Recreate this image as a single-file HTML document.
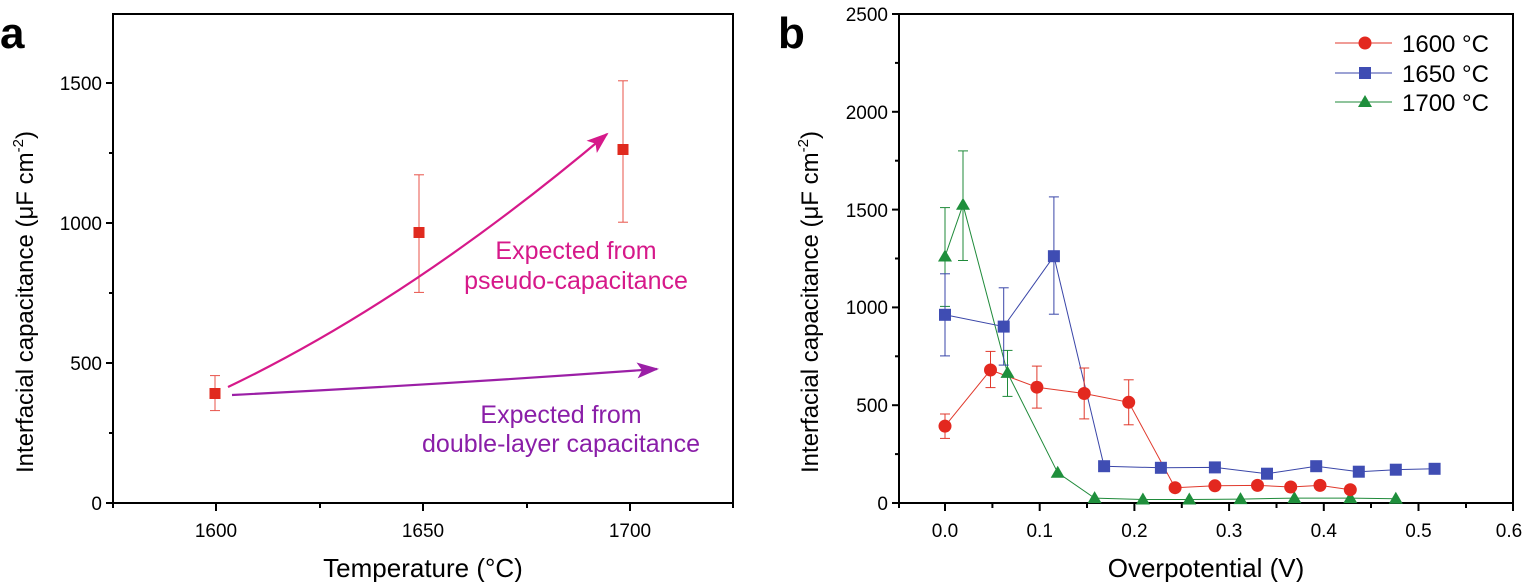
<!DOCTYPE html>
<html><head><meta charset="utf-8"><style>
html,body{margin:0;padding:0;background:#fff}
svg{display:block;font-family:"Liberation Sans",Arial,sans-serif}
</style></head><body>
<svg width="1524" height="582" viewBox="0 0 1524 582" xmlns="http://www.w3.org/2000/svg">
<defs>
<marker id="ahm" markerWidth="22" markerHeight="16" refX="20" refY="8" orient="auto" markerUnits="userSpaceOnUse"><path d="M0,0 L22,8 L0,16 L5,8 z" fill="#d6198a"/></marker>
<marker id="ahp" markerWidth="22" markerHeight="16" refX="20" refY="8" orient="auto" markerUnits="userSpaceOnUse"><path d="M0,0 L22,8 L0,16 L5,8 z" fill="#9b1fa6"/></marker>
</defs>
<!-- Panel a -->
<text x="0" y="48" font-size="44" font-weight="bold">a</text>
<rect x="113" y="14" width="620" height="489" fill="none" stroke="#000" stroke-width="2"/>
<g stroke="#000" stroke-width="2">
<line x1="106" y1="503" x2="113" y2="503"/><line x1="106" y1="363" x2="113" y2="363"/><line x1="106" y1="223" x2="113" y2="223"/><line x1="106" y1="83" x2="113" y2="83"/>
<line x1="109" y1="433" x2="113" y2="433"/><line x1="109" y1="293" x2="113" y2="293"/><line x1="109" y1="153" x2="113" y2="153"/>
<line x1="216" y1="503" x2="216" y2="511"/><line x1="423" y1="503" x2="423" y2="511"/><line x1="630" y1="503" x2="630" y2="511"/>
<line x1="113" y1="503" x2="113" y2="508"/><line x1="320" y1="503" x2="320" y2="508"/><line x1="527" y1="503" x2="527" y2="508"/><line x1="733" y1="503" x2="733" y2="508"/>
</g>
<g font-size="19" text-anchor="end">
<text x="102" y="510">0</text><text x="102" y="370">500</text><text x="102" y="230">1000</text><text x="102" y="90">1500</text>
</g>
<g font-size="19" text-anchor="middle">
<text x="216" y="537">1600</text><text x="423" y="537">1650</text><text x="630" y="537">1700</text>
</g>
<text x="423" y="577" font-size="26" text-anchor="middle">Temperature (°C)</text>
<text transform="translate(33,302) rotate(-90)" font-size="24" text-anchor="middle">Interfacial capacitance (μF cm<tspan dy="-10" font-size="15">-2</tspan><tspan dy="10">)</tspan></text>
<g stroke="#e8534a" stroke-width="1">
<line x1="215" y1="375.6" x2="215" y2="410.6"/><line x1="210" y1="375.6" x2="220" y2="375.6"/><line x1="210" y1="410.6" x2="220" y2="410.6"/>
<line x1="419" y1="174.8" x2="419" y2="292.4"/><line x1="414" y1="174.8" x2="424" y2="174.8"/><line x1="414" y1="292.4" x2="424" y2="292.4"/>
<line x1="623" y1="80.8" x2="623" y2="222.2"/><line x1="618" y1="80.8" x2="628" y2="80.8"/><line x1="618" y1="222.2" x2="628" y2="222.2"/>
</g>
<g fill="#e02a1e"><rect x="209.5" y="388" width="11" height="11"/><rect x="413.5" y="227" width="11" height="11"/><rect x="617.5" y="144" width="11" height="11"/></g>
<path d="M228,387 Q410,300 607,134" fill="none" stroke="#d6198a" stroke-width="2.2" marker-end="url(#ahm)"/>
<path d="M232,395 Q450,384 657,369" fill="none" stroke="#9b1fa6" stroke-width="2.2" marker-end="url(#ahp)"/>
<g font-size="25" text-anchor="middle" fill="#d6198a"><text x="576" y="259">Expected from</text><text x="576" y="289">pseudo-capacitance</text></g>
<g font-size="25" text-anchor="middle" fill="#8a1ea8"><text x="561" y="423">Expected from</text><text x="561" y="452">double-layer capacitance</text></g>

<!-- Panel b -->
<text x="778" y="48" font-size="44" font-weight="bold">b</text>
<rect x="899" y="14" width="614" height="489" fill="none" stroke="#000" stroke-width="2"/>
<g stroke="#000" stroke-width="2">
<line x1="892" y1="503" x2="899" y2="503"/><line x1="892" y1="405.2" x2="899" y2="405.2"/><line x1="892" y1="307.4" x2="899" y2="307.4"/><line x1="892" y1="209.6" x2="899" y2="209.6"/><line x1="892" y1="111.8" x2="899" y2="111.8"/><line x1="892" y1="14" x2="899" y2="14"/>
<line x1="895" y1="454.1" x2="899" y2="454.1"/><line x1="895" y1="356.3" x2="899" y2="356.3"/><line x1="895" y1="258.5" x2="899" y2="258.5"/><line x1="895" y1="160.7" x2="899" y2="160.7"/><line x1="895" y1="62.9" x2="899" y2="62.9"/>
<line x1="945" y1="503" x2="945" y2="511"/><line x1="1039.7" y1="503" x2="1039.7" y2="511"/><line x1="1134.4" y1="503" x2="1134.4" y2="511"/><line x1="1229.1" y1="503" x2="1229.1" y2="511"/><line x1="1323.8" y1="503" x2="1323.8" y2="511"/><line x1="1418.5" y1="503" x2="1418.5" y2="511"/><line x1="1513" y1="503" x2="1513" y2="511"/>
<line x1="899" y1="503" x2="899" y2="508"/><line x1="992.4" y1="503" x2="992.4" y2="508"/><line x1="1087" y1="503" x2="1087" y2="508"/><line x1="1181.8" y1="503" x2="1181.8" y2="508"/><line x1="1276.5" y1="503" x2="1276.5" y2="508"/><line x1="1371" y1="503" x2="1371" y2="508"/><line x1="1466" y1="503" x2="1466" y2="508"/>
</g>
<g font-size="19" text-anchor="end">
<text x="888" y="510">0</text><text x="888" y="412">500</text><text x="888" y="314">1000</text><text x="888" y="217">1500</text><text x="888" y="119">2000</text><text x="888" y="21">2500</text>
</g>
<g font-size="19" text-anchor="middle">
<text x="945" y="537">0.0</text><text x="1039.7" y="537">0.1</text><text x="1134.4" y="537">0.2</text><text x="1229.1" y="537">0.3</text><text x="1323.8" y="537">0.4</text><text x="1418.5" y="537">0.5</text><text x="1509" y="537">0.6</text>
</g>
<text x="1206" y="577" font-size="26" text-anchor="middle">Overpotential (V)</text>
<text transform="translate(818,302) rotate(-90)" font-size="24" text-anchor="middle">Interfacial capacitance (μF cm<tspan dy="-10" font-size="15">-2</tspan><tspan dy="10">)</tspan></text>

<!-- 1700 green -->
<g stroke="#1f8a3a" stroke-width="1" fill="none">
<line x1="945" y1="207.6" x2="945" y2="306.4"/><line x1="940" y1="207.6" x2="950" y2="207.6"/><line x1="940" y1="306.4" x2="950" y2="306.4"/>
<line x1="963" y1="150.9" x2="963" y2="260.5"/><line x1="958" y1="150.9" x2="968" y2="150.9"/><line x1="958" y1="260.5" x2="968" y2="260.5"/>
<line x1="1007.5" y1="350.4" x2="1007.5" y2="396.4"/><line x1="1002.5" y1="350.4" x2="1012.5" y2="350.4"/><line x1="1002.5" y1="396.4" x2="1012.5" y2="396.4"/>
<polyline points="945,256.5 963,204.7 1007.5,372.9 1057.7,472.7 1094.6,498.1 1142.9,499.5 1189.3,499.5 1240.5,499.1 1294.4,498.1 1350.3,498.1 1395.8,498.7"/>
</g>
<!-- 1650 blue -->
<g stroke="#3a46a8" stroke-width="1" fill="none">
<line x1="945" y1="273.8" x2="945" y2="355.9"/><line x1="940" y1="273.8" x2="950" y2="273.8"/><line x1="940" y1="355.9" x2="950" y2="355.9"/>
<line x1="1003.7" y1="287.8" x2="1003.7" y2="365.1"/><line x1="998.7" y1="287.8" x2="1008.7" y2="287.8"/><line x1="998.7" y1="365.1" x2="1008.7" y2="365.1"/>
<line x1="1053.9" y1="196.9" x2="1053.9" y2="314.2"/><line x1="1048.9" y1="196.9" x2="1058.9" y2="196.9"/><line x1="1048.9" y1="314.2" x2="1058.9" y2="314.2"/>
<polyline points="945,314.8 1003.7,326.6 1053.9,256.2 1104.1,466.2 1160.9,467.8 1214.9,467.4 1267,473.7 1316.2,466.2 1358.8,471.7 1395.8,469.7 1434.6,468.8"/>
</g>
<!-- 1600 red -->
<g stroke="#e0392c" stroke-width="1" fill="none">
<line x1="945" y1="414" x2="945" y2="438.4"/><line x1="940" y1="414" x2="950" y2="414"/><line x1="940" y1="438.4" x2="950" y2="438.4"/>
<line x1="990.5" y1="351.4" x2="990.5" y2="387.6"/><line x1="985.5" y1="351.4" x2="995.5" y2="351.4"/><line x1="985.5" y1="387.6" x2="995.5" y2="387.6"/>
<line x1="1036.9" y1="366.1" x2="1036.9" y2="408.1"/><line x1="1031.9" y1="366.1" x2="1041.9" y2="366.1"/><line x1="1031.9" y1="408.1" x2="1041.9" y2="408.1"/>
<line x1="1084.2" y1="368" x2="1084.2" y2="418.9"/><line x1="1079.2" y1="368" x2="1089.2" y2="368"/><line x1="1079.2" y1="418.9" x2="1089.2" y2="418.9"/>
<line x1="1128.7" y1="379.8" x2="1128.7" y2="424.8"/><line x1="1123.7" y1="379.8" x2="1133.7" y2="379.8"/><line x1="1123.7" y1="424.8" x2="1133.7" y2="424.8"/>
<polyline points="945,426.1 990.5,370 1036.9,387.2 1084.2,393.5 1128.7,402.3 1175.1,487.7 1214.9,485.8 1257.5,485.4 1290.7,487 1320,485.4 1350.3,489.7"/>
</g>
<g fill="#1f8f3c">
<path d="M945,249.5 l7,12 h-14z"/><path d="M963,197.7 l7,12 h-14z"/><path d="M1007.5,365.9 l7,12 h-14z"/><path d="M1057.7,465.7 l7,12 h-14z"/><path d="M1094.6,491.1 l7,12 h-14z"/><path d="M1142.9,492.5 l7,12 h-14z"/><path d="M1189.3,492.5 l7,12 h-14z"/><path d="M1240.5,492.1 l7,12 h-14z"/><path d="M1294.4,491.1 l7,12 h-14z"/><path d="M1350.3,491.1 l7,12 h-14z"/><path d="M1395.8,491.7 l7,12 h-14z"/>
</g>
<g fill="#3f4db3">
<rect x="939" y="308.8" width="12" height="12"/><rect x="997.7" y="320.6" width="12" height="12"/><rect x="1047.9" y="250.2" width="12" height="12"/><rect x="1098.1" y="460.2" width="12" height="12"/><rect x="1154.9" y="461.8" width="12" height="12"/><rect x="1208.9" y="461.4" width="12" height="12"/><rect x="1261" y="467.7" width="12" height="12"/><rect x="1310.2" y="460.2" width="12" height="12"/><rect x="1352.8" y="465.7" width="12" height="12"/><rect x="1389.8" y="463.7" width="12" height="12"/><rect x="1428.6" y="462.8" width="12" height="12"/>
</g>
<g fill="#e3281f">
<circle cx="945" cy="426.1" r="6.5"/><circle cx="990.5" cy="370" r="6.5"/><circle cx="1036.9" cy="387.2" r="6.5"/><circle cx="1084.2" cy="393.5" r="6.5"/><circle cx="1128.7" cy="402.3" r="6.5"/><circle cx="1175.1" cy="487.7" r="6.5"/><circle cx="1214.9" cy="485.8" r="6.5"/><circle cx="1257.5" cy="485.4" r="6.5"/><circle cx="1290.7" cy="487" r="6.5"/><circle cx="1320" cy="485.4" r="6.5"/><circle cx="1350.3" cy="489.7" r="6.5"/>
</g>
<!-- legend -->
<line x1="1335" y1="43" x2="1392" y2="43" stroke="#e0392c" stroke-width="1"/><circle cx="1365" cy="43" r="6.5" fill="#e3281f"/>
<line x1="1335" y1="73" x2="1392" y2="73" stroke="#3a46a8" stroke-width="1"/><rect x="1359" y="67" width="12" height="12" fill="#3f4db3"/>
<line x1="1335" y1="102" x2="1392" y2="102" stroke="#1f8a3a" stroke-width="1"/><path d="M1365,95 l7,12 h-14z" fill="#1f8f3c"/>
<g font-size="24"><text x="1402" y="52">1600 °C</text><text x="1402" y="82">1650 °C</text><text x="1402" y="111">1700 °C</text></g>
</svg>
</body></html>
